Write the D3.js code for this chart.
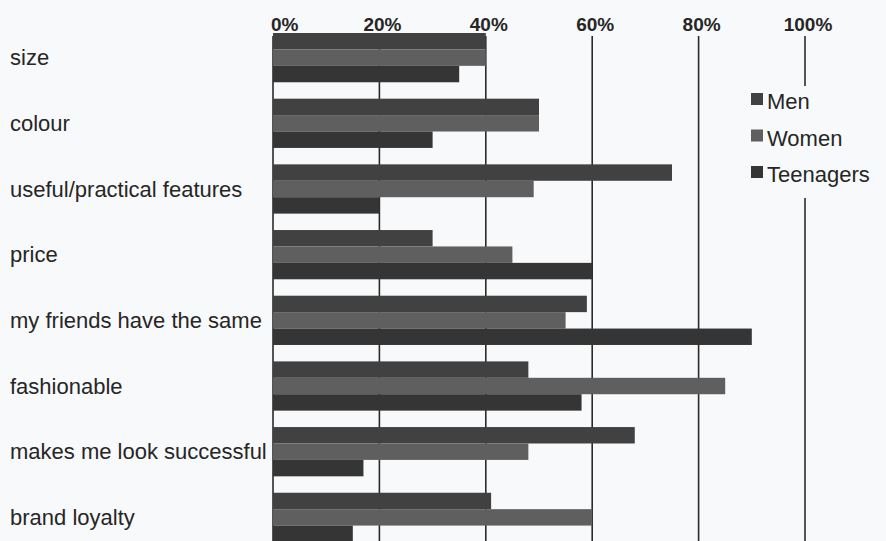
<!DOCTYPE html>
<html>
<head>
<meta charset="utf-8">
<script src="https://cdn.jsdelivr.net/npm/d3@7"></script>
<style>
  html, body { margin: 0; padding: 0; background: #f8f9fa; }
  svg { display: block; }
  text { font-family: "Liberation Sans Narrow", "Liberation Sans", Arial, sans-serif; fill: #262626; }
</style>
</head>
<body>
<svg id="chart"></svg>
<script>
// categories (top to bottom)
const categories = ['size', 'colour', 'useful/practical features', 'price',
  'my friends have the same', 'fashionable', 'makes me look successful', 'brand loyalty'];
const seriesNames = ['Men', 'Women', 'Teenagers'];
// percentages
const men = [40, 50, 75, 30, 59, 48, 68, 41];
const women = [40, 50, 49, 45, 55, 85, 48, 60];
const teenagers = [35, 30, 20, 60, 90, 58, 17, 15];
const tickValues = [0, 20, 40, 60, 80, 100];

const W = 886, H = 541;
const svg = d3.select('#chart').attr('width', W).attr('height', H);

const values = {Men: men, Women: women, Teenagers: teenagers};
const rows = categories.map((c, i) => ({cat: c, vals: seriesNames.map(s => ({name: s, v: values[s][i]}))}));

// scales
const x = d3.scaleLinear().domain([0, 100]).range([273, 805]);
const y = d3.scaleBand().domain(categories).range([33, 542]).paddingInner(0.25).paddingOuter(0);
const y1 = d3.scaleBand().domain(seriesNames).range([0, y.bandwidth()]);
const color = d3.scaleOrdinal().domain(seriesNames).range(['#414141', '#5f5f5f', '#353535']);

// grid lines (behind bars)
svg.append('g')
  .selectAll('line')
  .data(tickValues)
  .join('line')
  .attr('x1', d => x(d)).attr('x2', d => x(d))
  .attr('y1', 36).attr('y2', H)
  .attr('stroke', '#2b2b2b')
  .attr('stroke-width', 1.6);

// tick labels on top
svg.append('g')
  .selectAll('text')
  .data(tickValues)
  .join('text')
  .attr('x', d => d === 0 ? x(d) - 2 : x(d) + 3)
  .attr('y', 31)
  .attr('text-anchor', d => d === 0 ? 'start' : 'middle')
  .style('font-size', '19px')
  .style('font-weight', 'bold')
  .text(d => d + '%');

// bars
const groups = svg.append('g')
  .selectAll('g')
  .data(rows)
  .join('g')
  .attr('transform', d => `translate(0,${y(d.cat)})`);

groups.selectAll('rect')
  .data(d => d.vals)
  .join('rect')
  .attr('x', x(0))
  .attr('y', d => y1(d.name))
  .attr('width', d => x(d.v) - x(0))
  .attr('height', y1.bandwidth())
  .attr('fill', d => color(d.name));

// category labels
svg.append('g')
  .selectAll('text')
  .data(categories)
  .join('text')
  .attr('x', 10)
  .attr('y', d => y(d) + y.bandwidth() / 2)
  .attr('dy', '0.35em')
  .style('font-size', '22px')
  .text(d => d);

// legend, sits on a plain box over the 100% line
const legend = svg.append('g');
legend.append('rect')
  .attr('x', 745).attr('y', 86).attr('width', 141).attr('height', 112)
  .attr('fill', '#f8f9fa');
const ly = d3.scalePoint().domain(seriesNames).range([109, 182]);
const items = legend.selectAll('g.item')
  .data(seriesNames)
  .join('g')
  .attr('class', 'item');
items.append('rect')
  .attr('x', 751).attr('y', d => ly(d) - 16)
  .attr('width', 12).attr('height', 12)
  .attr('fill', d => color(d));
items.append('text')
  .attr('x', 767).attr('y', d => ly(d))
  .style('font-size', '22px')
  .text(d => d);
</script>
</body>
</html>
